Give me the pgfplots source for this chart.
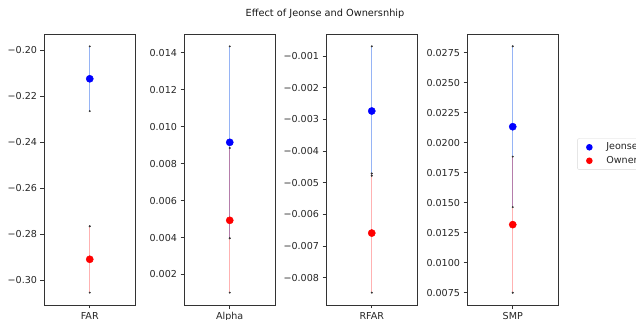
\documentclass[border=0pt]{standalone}
\usepackage{fontspec}
\setmainfont{DejaVu Sans}
\usepackage{pgfplots}
\pgfplotsset{compat=1.18}
\definecolor{jline}{RGB}{0,0,255}
\definecolor{oline}{RGB}{255,0,0}
\definecolor{jbar}{RGB}{150,180,245}
\pgfplotsset{
  panel/.style={
    width=91.5bp, height=271bp, scale only axis,
    xmin=-1, xmax=1, xtick={0},
    scaled y ticks=false,
    tick align=outside, tick pos=left,
    major tick length=3.5bp,
    axis line style={black!80, line width=0.6pt},
    every tick/.style={black!80, line width=0.6pt},
    tick label style={font=\fontsize{9.6}{11}\selectfont, text=black!85},
    xticklabel style={text height=7bp, text depth=0pt},
    anchor=south west,
  },
  jerr/.style={jbar, line width=0.9pt, forget plot},
  oerr/.style={oline, opacity=0.3, line width=0.9pt, forget plot},
  capm/.style={only marks, mark=*, mark size=0.8bp, black!80, forget plot},
  jpt/.style={only marks, mark=*, mark size=3.6bp, jline},
  opt/.style={only marks, mark=*, mark size=3.6bp, oline},
}
\begin{document}
\begin{tikzpicture}[x=1bp,y=1bp]
% FAR
\begin{axis}[panel, at={(44bp,15bp)}, ymin=-0.3109, ymax=-0.1929,
  xticklabels={FAR},
  ytick={-0.30,-0.28,-0.26,-0.24,-0.22,-0.20},
  yticklabels={−0.30,−0.28,−0.26,−0.24,−0.22,−0.20}]
\addplot[jerr] coordinates {(0,-0.1983) (0,-0.2265)};
\addplot[capm] coordinates {(0,-0.1983) (0,-0.2265)};
\addplot[oerr] coordinates {(0,-0.2766) (0,-0.3055)};
\addplot[capm] coordinates {(0,-0.2766) (0,-0.3055)};
\addplot[jpt, forget plot] coordinates {(0,-0.2124)};
\addplot[opt, forget plot] coordinates {(0,-0.2910)};
\end{axis}
% Alpha
\begin{axis}[panel, at={(184bp,15bp)}, ymin=0.00035, ymax=0.01501,
  xticklabels={Alpha},
  ytick={0.002,0.004,0.006,0.008,0.010,0.012,0.014},
  yticklabels={0.002,0.004,0.006,0.008,0.010,0.012,0.014}]
\addplot[jerr] coordinates {(0,0.01434) (0,0.00396)};
\addplot[capm] coordinates {(0,0.01434) (0,0.00396)};
\addplot[oerr] coordinates {(0,0.00884) (0,0.00102)};
\addplot[capm] coordinates {(0,0.00884) (0,0.00102)};
\addplot[jpt, forget plot] coordinates {(0,0.00915)};
\addplot[opt, forget plot] coordinates {(0,0.00493)};
\end{axis}
% RFAR
\begin{axis}[panel, at={(326bp,15bp)}, ymin=-0.008859, ymax=-0.000311,
  xticklabels={RFAR},
  ytick={-0.008,-0.007,-0.006,-0.005,-0.004,-0.003,-0.002,-0.001},
  yticklabels={−0.008,−0.007,−0.006,−0.005,−0.004,−0.003,−0.002,−0.001}]
\addplot[jerr] coordinates {(0,-0.00070) (0,-0.00478)};
\addplot[capm] coordinates {(0,-0.00070) (0,-0.00478)};
\addplot[oerr] coordinates {(0,-0.00471) (0,-0.00847)};
\addplot[capm] coordinates {(0,-0.00471) (0,-0.00847)};
\addplot[jpt, forget plot] coordinates {(0,-0.00274)};
\addplot[opt, forget plot] coordinates {(0,-0.00659)};
\end{axis}
% SMP
\begin{axis}[panel, at={(467bp,15bp)}, ymin=0.006473, ymax=0.029057,
  xticklabels={SMP},
  ytick={0.0075,0.0100,0.0125,0.0150,0.0175,0.0200,0.0225,0.0250,0.0275},
  yticklabels={0.0075,0.0100,0.0125,0.0150,0.0175,0.0200,0.0225,0.0250,0.0275},
  legend style={at={(1.204,0.557)}, anchor=west, draw=black!15, rounded corners=2bp,
    font=\fontsize{9.6}{11}\selectfont, text=black!85, row sep=1bp,
    inner xsep=3bp, inner ysep=2.5bp},
  legend cell align=left,
  legend image code/.code={\path[draw=none] (0bp,0bp) -- (24bp,0bp); \fill[#1, draw=none] (9bp,0bp) circle (3.3bp);}]
\addplot[jerr] coordinates {(0,0.02803) (0,0.01463)};
\addplot[capm] coordinates {(0,0.02803) (0,0.01463)};
\addplot[oerr] coordinates {(0,0.01884) (0,0.00750)};
\addplot[capm] coordinates {(0,0.01884) (0,0.00750)};
\addplot[jpt] coordinates {(0,0.02133)};
\addlegendentry{Jeonse}
\addplot[opt] coordinates {(0,0.01317)};
\addlegendentry{Owner}
\end{axis}
\node[font=\fontsize{9.8}{12}\selectfont, text=black!90] at (325bp,306bp) {Effect of Jeonse and Ownersnhip};
\pgfresetboundingbox
\path (0,0) rectangle (636bp,320bp);
\end{tikzpicture}
\end{document}
